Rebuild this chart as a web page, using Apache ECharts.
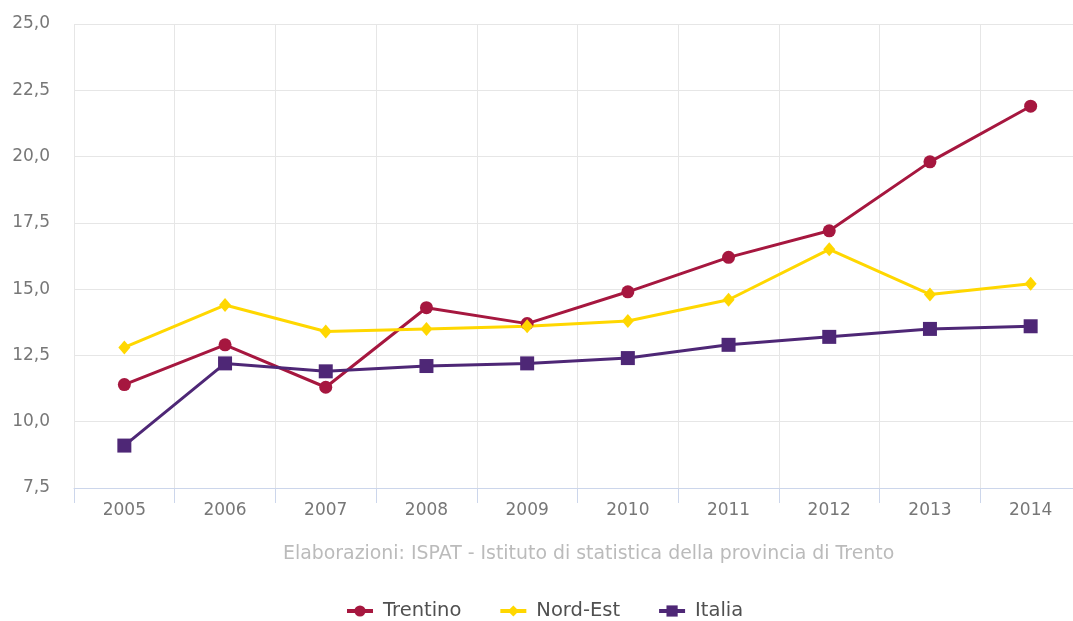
<!DOCTYPE html>
<html>
<head>
<meta charset="utf-8">
<script src="https://cdn.jsdelivr.net/npm/echarts@6/dist/echarts.min.js"></script>
<style>html,body{margin:0;padding:0;background:#fff;overflow:hidden;width:1073px;height:621px;}#c{width:1081px;height:621px;}</style>
</head>
<body>
<div id="c"></div>
<script>
const years = ['2005','2006','2007','2008','2009','2010','2011','2012','2013','2014'];
const trentino = [11.4, 12.9, 11.3, 14.3, 13.7, 14.9, 16.2, 17.2, 19.8, 21.9];
const nordEst  = [12.8, 14.4, 13.4, 13.5, 13.6, 13.8, 14.6, 16.5, 14.8, 15.2];
const italia   = [9.1, 12.2, 11.9, 12.1, 12.2, 12.4, 12.9, 13.2, 13.5, 13.6];
const sourceText = 'Elaborazioni: ISPAT - Istituto di statistica della provincia di Trento';

const FONT = 'DejaVu Sans';
const chart = echarts.init(document.getElementById('c'), null, {renderer:'canvas'});
function fmt(v){ return v.toFixed(1).replace('.', ','); }
chart.setOption({
  animation:false,
  backgroundColor:'#fff',
  textStyle:{fontFamily:FONT},
  grid:{left:74, right:0, top:24, bottom:133, containLabel:false},
  xAxis:{
    type:'category', data:years, boundaryGap:true,
    axisLine:{lineStyle:{color:'#ccd6eb', width:1}},
    axisTick:{show:true, length:15, lineStyle:{color:'#ccd6eb'}},
    axisLabel:{color:'#777', fontSize:17, fontFamily:FONT, margin:14},
    splitLine:{show:true, lineStyle:{color:'#e6e6e6', width:1}}
  },
  yAxis:{
    type:'value', min:7.5, max:25, interval:2.5,
    axisLine:{show:false}, axisTick:{show:false},
    axisLabel:{color:'#777', fontSize:17, fontFamily:FONT, margin:24, formatter:fmt},
    splitLine:{lineStyle:{color:'#e6e6e6', width:1}}
  },
  legend:{
    left:340, top:596, itemWidth:26, itemHeight:14, itemGap:37,
    lineStyle:{width:4},
    textStyle:{color:'#505050', fontSize:19.5, fontFamily:FONT, padding:[0,0,0,5]},
    data:['Trentino','Nord-Est','Italia']
  },
  graphic:[{
    type:'text', left:283, top:545,
    style:{text:sourceText, fill:'#bbb', font:'18.9px "'+FONT+'"'}
  }],
  series:[
    {name:'Trentino', type:'line', data:trentino, color:'#a6173f',
     symbol:'circle', symbolSize:13, lineStyle:{width:3}},
    {name:'Nord-Est', type:'line', data:nordEst, color:'#ffd700',
     symbol:'diamond', symbolSize:[12,14], lineStyle:{width:3}},
    {name:'Italia', type:'line', data:italia, color:'#4e2776',
     symbol:'rect', symbolSize:14, lineStyle:{width:3}}
  ]
});
</script>
</body>
</html>
